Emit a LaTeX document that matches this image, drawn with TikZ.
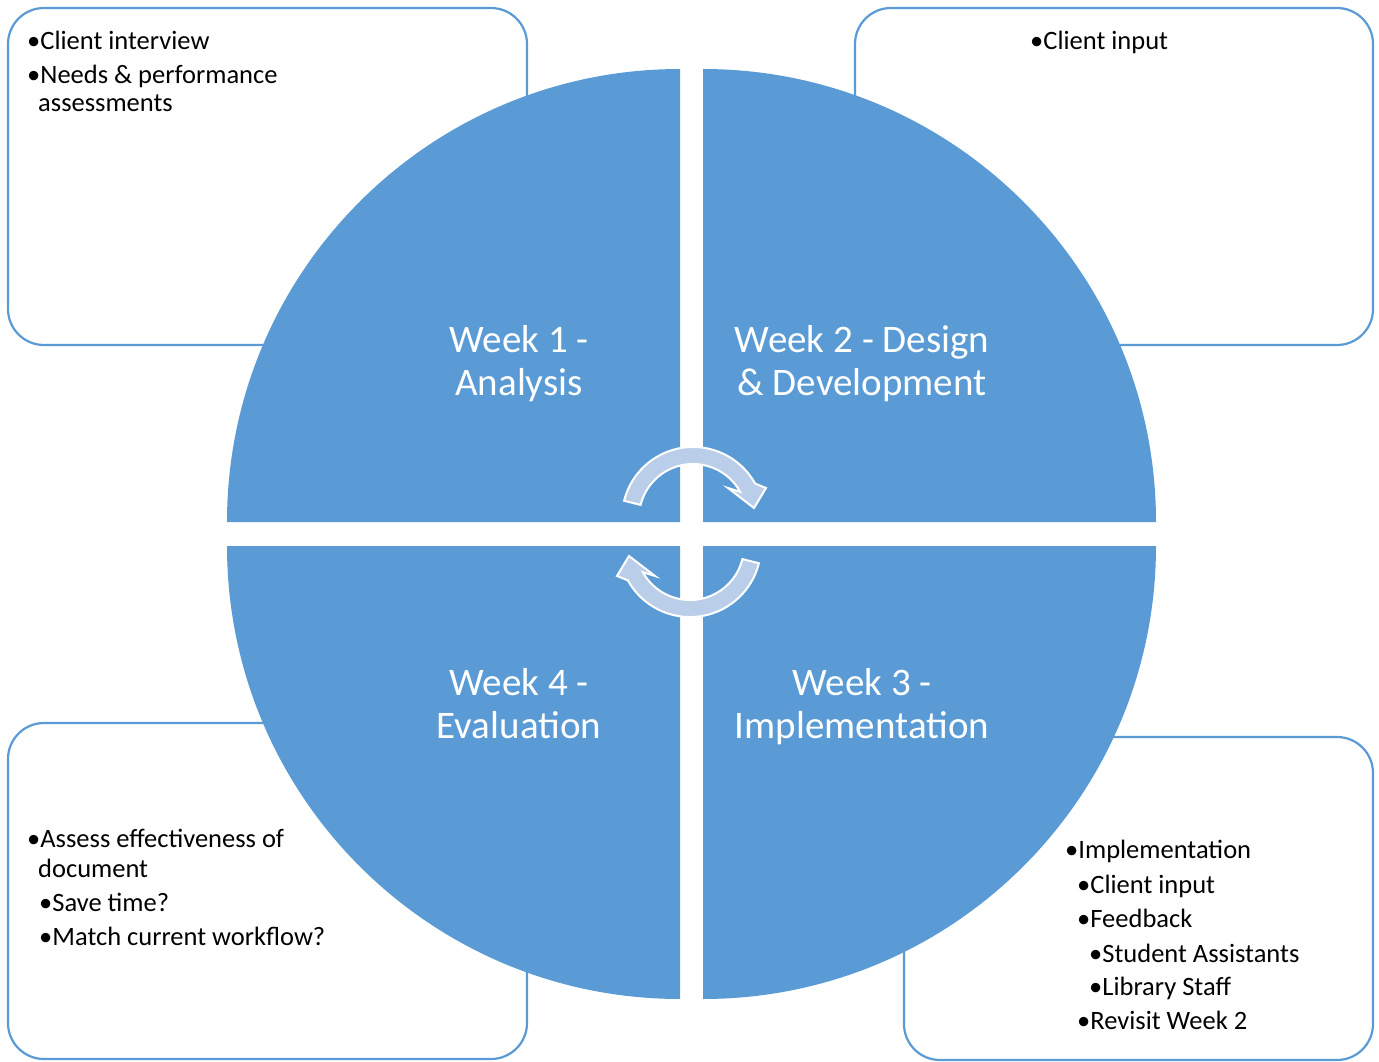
\documentclass[tikz,border=0pt]{standalone}
\usepackage{fontspec}
\setmainfont{Carlito}
\definecolor{accent}{HTML}{5B9BD5}
\definecolor{arrowfill}{RGB}{186,205,233}

\newcommand\turnarrowpath{%
  (624.1,500.8) arc[start angle=194, end angle=331, radius=71]
  -- (766,488) -- (754,508) -- (728,488) -- (740.2,491.8)
  arc[start angle=331, end angle=194, radius=54] -- cycle}

\begin{document}
\begin{tikzpicture}[x=1pt, y=-1pt,
  notebox/.style={draw=accent, line width=2.2pt, rounded corners=36pt, fill=white, inner sep=0pt},
  quadrant/.style={fill=accent},
  weeklabel/.style={text=white, anchor=base, inner sep=0pt, font=\fontsize{39}{44}\selectfont},
  item/.style={anchor=base west, inner sep=0pt, font=\fontsize{26.5}{29}\selectfont},
  cyclearrow/.style={fill=arrowfill, draw=white, line width=2pt, line join=miter},
]
\useasboundingbox (0,0) rectangle (1379,1062);

% note boxes behind the wheel
\node[notebox, minimum width=519pt, minimum height=337pt] (box1) at (267.5,176.5) {};
\node[notebox, minimum width=518pt, minimum height=337pt] (box2) at (1114,176.5) {};
\node[notebox, minimum width=519pt, minimum height=336pt] (box4) at (267.5,891) {};
\node[notebox, minimum width=469pt, minimum height=323pt] (box3) at (1138.5,898.5) {};

% the four quarters of the wheel
\fill[quadrant] (680,522) -- (227,522) arc[start angle=180, end angle=270, radius=453] -- cycle;
\fill[quadrant] (703,522) -- (703,69) arc[start angle=270, end angle=360, radius=453] -- cycle;
\fill[quadrant] (703,546) -- (1156,546) arc[start angle=0, end angle=90, radius=453] -- cycle;
\fill[quadrant] (680,546) -- (680,999) arc[start angle=90, end angle=180, radius=453] -- cycle;

% quarter titles
\node[weeklabel] (w1a) at (519,352) {Week 1 -};
\node[weeklabel] (w1b) at (519,395) {Analysis};
\node[weeklabel] (w2a) at (862,352) {Week 2 - Design};
\node[weeklabel] (w2b) at (862,395) {\& Development};
\node[weeklabel] (w4a) at (519,695) {Week 4 -};
\node[weeklabel] (w4b) at (519,738) {Evaluation};
\node[weeklabel] (w3a) at (862,695) {Week 3 -};
\node[weeklabel] (w3b) at (862,738) {Implementation};

% cycle arrows in the middle
\path[cyclearrow] \turnarrowpath;
\begin{scope}[rotate around={180:(691.5,532)}]
  \path[cyclearrow] \turnarrowpath;
\end{scope}

% notes, week 1
\node[item] (n1a) at (27,50) {•Client interview};
\node[item] (n1b) at (27,84) {•Needs \& performance};
\node[item] (n1c) at (38,112) {assessments};

% notes, week 2
\node[item] (n2a) at (1030,50) {•Client input};

% notes, week 4
\node[item] (n4a) at (27,847) {•Assess effectiveness of};
\node[item] (n4b) at (38,877) {document};
\node[item] (n4c) at (39,911) {•Save time?};
\node[item] (n4d) at (39,945) {•Match current workflow?};

% notes, week 3
\node[item] (n3a) at (1065,858) {•Implementation};
\node[item] (n3b) at (1077,893) {•Client input};
\node[item] (n3c) at (1077,927) {•Feedback};
\node[item] (n3d) at (1089,962) {•Student Assistants};
\node[item] (n3e) at (1089,995) {•Library Staff};
\node[item] (n3f) at (1077,1029) {•Revisit Week 2};
\end{tikzpicture}
\end{document}
